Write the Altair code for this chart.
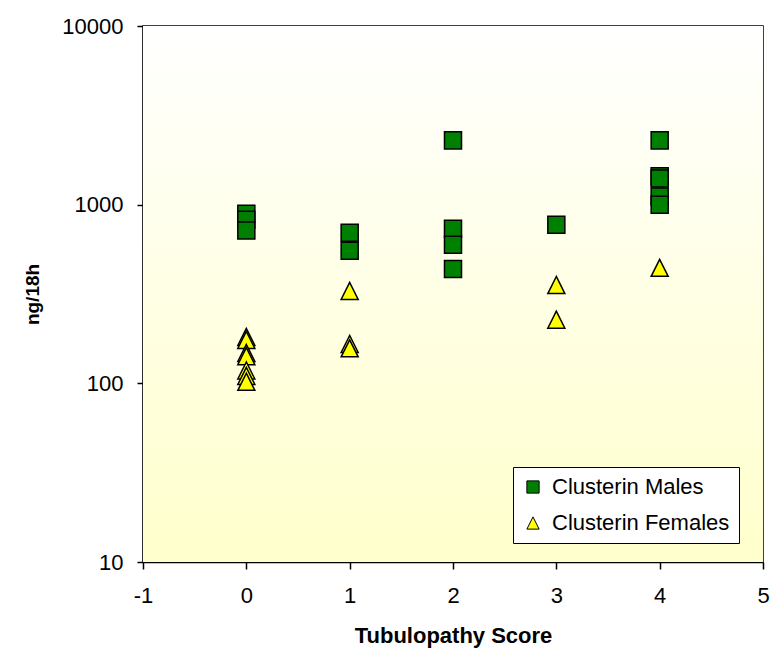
import altair as alt
import pandas as pd

# Data
male_x = [0, 0, 0, 1, 1, 2, 2, 2, 2, 3, 4, 4, 4, 4, 4]
male_y = [890, 824, 717, 696, 552, 2290, 733, 596, 437, 772, 2290, 1440, 1400, 1110, 1000]
female_x = [0, 0, 0, 0, 0, 0, 0, 1, 1, 1, 3, 3, 4]
female_y = [182, 175, 148, 142, 118, 110, 102, 329, 166, 157, 355, 227, 443]
series_names = ["Clusterin Males", "Clusterin Females"]
x_ticks = [-1, 0, 1, 2, 3, 4, 5]
y_ticks = [10, 100, 1000, 10000]

rows = [{"score": x, "value": y, "series": series_names[0]} for x, y in zip(male_x, male_y)]
rows += [{"score": x, "value": y, "series": series_names[1]} for x, y in zip(female_x, female_y)]
df = pd.DataFrame(rows)

W, H = 620, 536
FONT = "Liberation Sans"

bg = alt.Chart(pd.DataFrame({"a": [0]})).mark_rect(
    fill=alt.Gradient(
        gradient="linear",
        stops=[alt.GradientStop(color="#FFFFFF", offset=0),
               alt.GradientStop(color="#FFFFCC", offset=1)],
        x1=0, x2=0, y1=0, y2=1,
    ),
).encode(x=alt.value(0), x2=alt.value(W), y=alt.value(0), y2=alt.value(H))

pts = alt.Chart(df).mark_point(
    filled=True, stroke="black", strokeWidth=1.5, opacity=1, size=290
).encode(
    x=alt.X("score:Q", scale=alt.Scale(domain=[-1, 5], nice=False, zero=False),
            axis=alt.Axis(values=x_ticks, title="Tubulopathy Score", grid=False,
                          labelExpr="datum.value + ''",
                          tickSize=7, labelPadding=16, titlePadding=19,
                          labelFontSize=22, titleFontSize=22, labelFlush=False)),
    y=alt.Y("value:Q", scale=alt.Scale(type="log", domain=[10, 10000], nice=False),
            axis=alt.Axis(values=y_ticks, format="d", title="ng/18h", grid=False,
                          tickSize=6, labelPadding=14, titlePadding=19,
                          labelFontSize=22, titleFontSize=19)),
    color=alt.Color("series:N",
                    scale=alt.Scale(domain=series_names, range=["#008000", "#FFFF00"]),
                    legend=alt.Legend(title=None, orient="none", legendX=370, legendY=441,
                                      fillColor="white", strokeColor="black", padding=9,
                                      labelFontSize=22, labelFont=FONT, symbolSize=150,
                                      symbolStrokeColor="black", symbolStrokeWidth=1,
                                      rowPadding=14, labelOffset=8, symbolOffset=0,
                                      labelLimit=400)),
    shape=alt.Shape("series:N",
                    scale=alt.Scale(domain=series_names, range=["square", "M0,-1L-1,1L1,1Z"]),
                    legend=alt.Legend(title=None, orient="none", legendX=370, legendY=441)),
)

chart = alt.layer(bg, pts).properties(
    width=W, height=H,
    padding={"left": 143, "top": 26, "right": 12, "bottom": 87},
    autosize="none",
    background="white",
).configure_view(
    stroke="black", strokeWidth=1.5
).configure_axis(
    labelFont=FONT, titleFont=FONT, labelColor="black", titleColor="black",
    domainColor="black", tickColor="black", domainWidth=1.5, tickWidth=1.5,
    titleFontWeight="bold"
)

chart.save("out.html", embed_options={"renderer": "svg", "actions": False})
